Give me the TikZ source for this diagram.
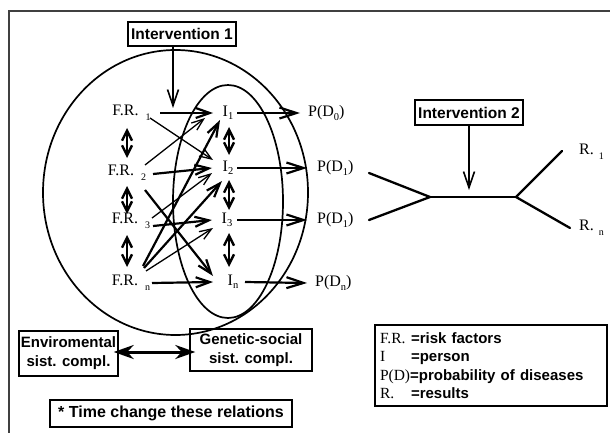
\documentclass[tikz,border=0pt]{standalone}
\usepackage{fontspec}
\setmainfont{Liberation Serif}
\newfontfamily\boxfont{Liberation Sans}
\usetikzlibrary{arrows.meta}
\newcommand\sbs[1]{\raisebox{-3.5pt}{\fontsize{10.5}{10.5}\selectfont #1}}
\newcommand\frsub[1]{\rlap{\hspace{7pt}\raisebox{-4.5pt}{\fontsize{10}{10}\selectfont #1}}}
\newcommand\lgb[1]{{\boxfont\bfseries\fontsize{15}{15}\selectfont #1}}
\begin{document}
\begin{tikzpicture}[x=1pt,y=-1pt,
  lbl/.style={font=\fontsize{16}{18}\selectfont, inner sep=0pt},
  bx/.style={draw, line width=1.4pt, font=\boxfont\bfseries\fontsize{15}{19}\selectfont, inner sep=0pt, align=center},
  thinarr/.style={line width=1.3pt, -{Straight Barb[length=12pt,width=9pt]}},
  thickarr/.style={line width=2.2pt, -{Straight Barb[length=14pt,width=10pt]}},
  dblarr/.style={line width=2.4pt, {Straight Barb[length=10pt,width=10pt]}-{Straight Barb[length=10pt,width=10pt]}},
  outarr/.style={line width=2.2pt, -{Straight Barb[length=17pt,width=11pt]}},
  intarr/.style={line width=1.6pt, -{Straight Barb[length=16pt,width=11pt]}},
  brln/.style={line width=2.3pt, line cap=round}
]
\useasboundingbox (0,0) rectangle (610,433);
% frame
\draw[line width=1.6pt, black!75] (9,433) -- (9,11) -- (610,11);

% ellipses
\draw[line width=1.7pt] (175.5,192.5) ellipse [x radius=132.5pt, y radius=142.5pt];
\draw[line width=1.7pt] (228,201.5) ellipse [x radius=55pt, y radius=116.5pt];

% boxes
\node[bx, minimum width=108pt, minimum height=24pt, font=\boxfont\bfseries\fontsize{15.5}{19}\selectfont] (int1) at (182,34) {Intervention 1};
\node[bx, minimum width=108pt, minimum height=25pt, font=\boxfont\bfseries\fontsize{15.5}{19}\selectfont] (int2) at (469,112.5) {Intervention 2};
\node[bx, minimum width=99pt, minimum height=45pt] (env) at (68.5,353.5) {Enviromental\\sist. compl.};
\node[bx, minimum width=122pt, minimum height=42pt] (gen) at (251,350) {Genetic-social\\sist. compl.};
\node[bx, minimum width=242pt, minimum height=27pt, font=\boxfont\bfseries\fontsize{16}{19}\selectfont] (time) at (171,413.5) {* Time change these relations};
\node[draw, line width=1.4pt, minimum width=232pt, minimum height=81pt, inner sep=0pt, text width=222pt, align=left,
  font=\fontsize{15.5}{18.5}\selectfont] (leg) at (491,365.5)
  {\makebox[31pt][l]{F.R.}\lgb{=risk factors}\\
   \makebox[31pt][l]{I}\lgb{=person}\\
   P(D)\lgb{=probability of diseases}\\
   \makebox[31pt][l]{R.}\lgb{=results}};

% F.R. nodes
\node[lbl] (fr1) at (125.5,113) {F.R.\frsub{1}};
\node[lbl] (fr2) at (121,173) {F.R.\frsub{2}};
\node[lbl] (fr3) at (125,221) {F.R.\frsub{3}};
\node[lbl] (frn) at (125,283) {F.R.\frsub{n}};
% I nodes
\node[lbl] (ia) at (228,113) {I\sbs{1}};
\node[lbl] (ib) at (228,168) {I\sbs{2}};
\node[lbl] (ic) at (227,220) {I\sbs{3}};
\node[lbl] (id) at (233,282) {I\sbs{n}};
% P nodes
\node[lbl, anchor=west] (pa) at (308,113) {P(D\sbs{0})};
\node[lbl, anchor=west] (pb) at (317,168) {P(D\sbs{1})};
\node[lbl, anchor=west] (pc) at (317,220) {P(D\sbs{1})};
\node[lbl, anchor=west] (pd) at (315,283) {P(D\sbs{n})};
% R nodes
\node[lbl, anchor=west] (r1) at (579,152) {R.\rlap{\hspace{5pt}\raisebox{-4.5pt}{\fontsize{10}{10}\selectfont 1}}};
\node[lbl, anchor=west] (rn) at (579,228) {R.\rlap{\hspace{5pt}\raisebox{-4.5pt}{\fontsize{10}{10}\selectfont n}}};

% FR -> I arrows
\draw[thickarr] ([shift={(34.5,0)}]fr1.center) -- ([shift={(-15,0)}]ia.center);
\draw[thinarr] ([shift={(24.5,5)}]fr1.center) -- ([shift={(-15,-8)}]ib.center);
\draw[thinarr] ([shift={(24,-8)}]fr2.center) -- ([shift={(-23,5)}]ia.center);
\draw[thickarr] ([shift={(32,1)}]fr2.center) -- ([shift={(-16,0)}]ib.center);
\draw[thickarr] ([shift={(24,17)}]fr2.center) -- ([shift={(-20,-6)}]id.center);
\draw[thinarr] ([shift={(27,-3)}]fr3.center) -- ([shift={(-16,5)}]ib.center);
\draw[thickarr] ([shift={(28,5)}]fr3.center) -- ([shift={(-15,0)}]ic.center);
\draw[thickarr] ([shift={(18,-17)}]frn.center) -- ([shift={(-8,7)}]ia.center);
\draw[thickarr] ([shift={(19,-15)}]frn.center) -- ([shift={(-6,13)}]ib.center);
\draw[thinarr] ([shift={(21,-12)}]frn.center) -- ([shift={(-14,8)}]ic.center);
\draw[thickarr] ([shift={(27,0)}]frn.center) -- ([shift={(-20,0)}]id.center);

% vertical double arrows
\draw[dblarr] ([shift={(1.5,15)}]fr1.center) -- ([shift={(6,-15)}]fr2.center);
\draw[dblarr] ([shift={(6,13)}]fr2.center) -- ([shift={(2,-7)}]fr3.center);
\draw[dblarr] ([shift={(2,14)}]fr3.center) -- ([shift={(2,-16)}]frn.center);
\draw[dblarr] ([shift={(1,14)}]ia.center) -- ([shift={(1,-13)}]ib.center);
\draw[dblarr] ([shift={(1,12)}]ib.center) -- ([shift={(2,-10)}]ic.center);
\draw[dblarr] ([shift={(2,13)}]ic.center) -- ([shift={(-4,-15)}]id.center);

% I -> P arrows
\draw[outarr] ([shift={(9,0)}]ia.center) -- ([shift={(-8,0)}]pa.west);
\draw[outarr] ([shift={(9,0)}]ib.center) -- ([shift={(-10,0)}]pb.west);
\draw[outarr] ([shift={(10,0)}]ic.center) -- ([shift={(-10,0)}]pc.west);
\draw[outarr] ([shift={(12,0)}]id.center) -- ([shift={(-8,0)}]pd.west);

% intervention 1 arrow
\coordinate (t1) at (173,108);
\draw[intarr] ([xshift=-9pt]int1.south) -- (t1);

% environmental <-> genetic
\draw[line width=3pt, {Stealth[length=20pt,width=14pt]}-{Stealth[length=20pt,width=14pt]}]
  ([shift={(-5,-1.5)}]env.east) -- ([shift={(6,2)}]gen.west);

% intervention 2 structure
\coordinate (l1) at (369,173);
\coordinate (l2) at (369,220);
\coordinate (j1) at (430,197);
\coordinate (j2) at (516,197);
\coordinate (e1) at (562,151);
\coordinate (e2) at (570,228);
\coordinate (t2) at (469,190);
\draw[brln] (l1) -- (j1) -- (l2);
\draw[brln] (j1) -- (j2);
\draw[brln] (e1) -- (j2) -- (e2);
\draw[intarr] (int2.south) -- (t2);
\end{tikzpicture}
\end{document}
